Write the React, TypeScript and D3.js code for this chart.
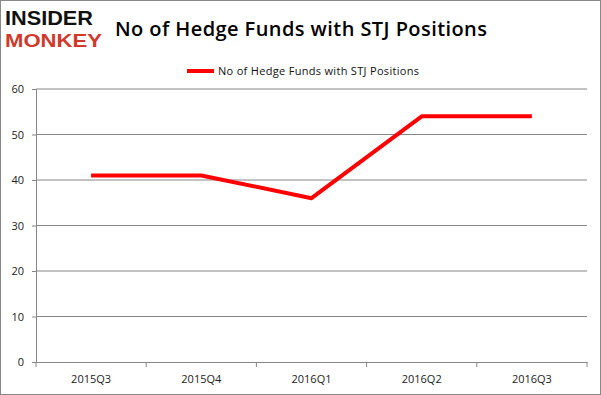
import * as d3 from "d3";
import { useRef, useEffect } from "react";

const quarters = ["2015Q3", "2015Q4", "2016Q1", "2016Q2", "2016Q3"];
const funds = [41, 41, 36, 54, 54];
const yTicks = [0, 10, 20, 30, 40, 50, 60];
const seriesName = "No of Hedge Funds with STJ Positions";

const width = 601;
const height = 395;
const marginLeft = 36;
const marginRight = 14;
const marginTop = 89;
const marginBottom = 33;

const App = () => {
  const gx = useRef<SVGGElement>(null);
  const gy = useRef<SVGGElement>(null);

  const x = d3.scaleBand()
    .domain(quarters)
    .range([marginLeft, width - marginRight]);

  const y = d3.scaleLinear()
    .domain([0, 60])
    .range([height - marginBottom, marginTop]);

  const line = d3.line<number>()
    .x((_, i) => (x(quarters[i]) ?? 0) + x.bandwidth() / 2)
    .y(d => y(d));

  useEffect(() => {
    if (gx.current) {
      const ax = d3.select(gx.current)
        .call(d3.axisBottom(x).tickSize(5).tickPadding(8).tickSizeOuter(0));
      ax.selectAll(".tick line").remove();
      ax.select(".domain").attr("stroke", "#868686");
      ax.selectAll(".tick text")
        .attr("font-family", "Open Sans, sans-serif")
        .attr("font-size", 11)
        .attr("fill", "#222");
      // ticks sit on the band boundaries
      const bounds = quarters.map(q => x(q) ?? 0).concat([width - marginRight]);
      ax.selectAll("line.bound")
        .data(bounds)
        .join("line")
        .attr("class", "bound")
        .attr("x1", d => d).attr("x2", d => d)
        .attr("y1", 0).attr("y2", 5)
        .attr("stroke", "#868686");
    }
    if (gy.current) {
      const ay = d3.select(gy.current)
        .call(d3.axisLeft(y).tickValues(yTicks).tickSize(4).tickPadding(8));
      ay.select(".domain").attr("stroke", "#868686");
      ay.selectAll(".tick line").attr("stroke", "#868686");
      ay.selectAll(".tick text")
        .attr("font-family", "Open Sans, sans-serif")
        .attr("font-size", 11)
        .attr("fill", "#222");
    }
  }, []);

  return (
    <svg width={width} height={height} style={{ position: "absolute", left: 0, top: 0 }}>
      <rect x={0.5} y={0.5} width={width - 1} height={height - 1} fill="white" stroke="#888" />
      <g fontFamily="Liberation Sans, Arial, sans-serif" fontWeight="900">
        <text x={5} y={25} fontSize={21} fill="#111" textLength={88} lengthAdjust="spacingAndGlyphs">INSIDER</text>
        <text x={5} y={47} fontSize={19} fill="#d0392b" textLength={97} lengthAdjust="spacingAndGlyphs">MONKEY</text>
      </g>
      <text x={115} y={36} fontFamily="Open Sans, sans-serif" fontSize={20} fontWeight={600} fill="#000" textLength={372}>
        {seriesName}
      </text>
      <line x1={187} x2={214} y1={71} y2={71} stroke="#ff0000" strokeWidth={4} />
      <text x={218} y={75} fontFamily="Open Sans, sans-serif" fontSize={11} fill="#111" textLength={201}>{seriesName}</text>
      <g>
        {yTicks.filter(t => t > 0).map(t => (
          <line key={t} x1={marginLeft} x2={width - marginRight} y1={y(t)} y2={y(t)} stroke="#868686" />
        ))}
      </g>
      <g ref={gx} transform={`translate(0,${height - marginBottom})`} />
      <g ref={gy} transform={`translate(${marginLeft},0)`} />
      <path d={line(funds) || ""} fill="none" stroke="#ff0000" strokeWidth={4} strokeLinejoin="round" />
    </svg>
  );
};

export default App;
